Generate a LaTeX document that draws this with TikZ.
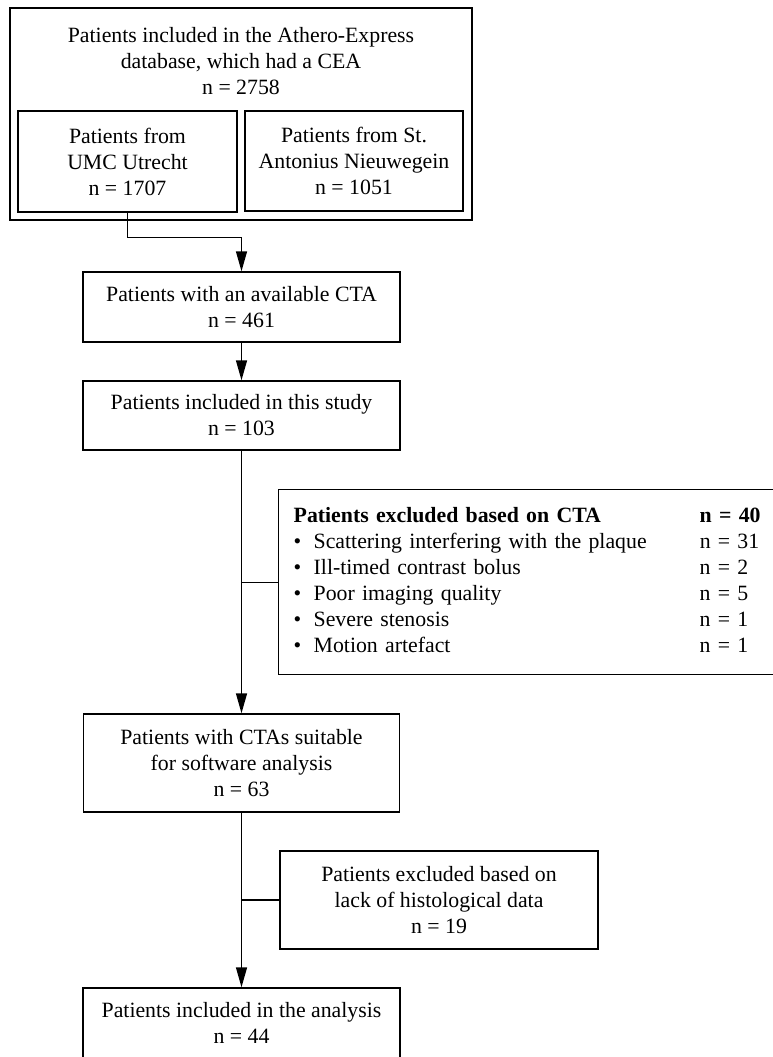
\documentclass[tikz,border=0pt]{standalone}
\usepackage{fontspec}
\setmainfont{Liberation Serif}
\usetikzlibrary{arrows.meta}
\newcommand{\boxfont}{\fontsize{21.8}{26}\selectfont}
\newcommand{\bul}{\makebox[20pt][l]{•}}

\begin{document}
\begin{tikzpicture}[x=1pt,y=-1pt,
	box/.style={draw, line width=1.4pt, align=center, inner sep=0pt, font=\boxfont},
	arr/.style={line width=1.4pt, -{Triangle[length=20pt,width=11pt]}},
	link/.style={line width=1.4pt}]
	\useasboundingbox (0,0) rectangle (773,1057);

	% database with its two centres
	\node [box, minimum width=462, minimum height=212] (dbase) at (241,114) {};
	\node [font=\boxfont, align=center, inner sep=0pt] (dbasetext) at (241,61) {Patients included in the Athero-Express\\ database, which had a CEA\\ n = 2758};
	\node [box, minimum width=219, minimum height=101] (umc) at (127.5,161.5) {Patients from\\ UMC Utrecht\\ n = 1707};
	\node [box, minimum width=218, minimum height=100] (stant) at (354,161) {Patients from St.\\ Antonius Nieuwegein\\ n = 1051};

	% main flow
	\node [box, minimum width=317, minimum height=70] (cta) at (241.5,307) {Patients with an available CTA\\ n = 461};
	\node [box, minimum width=317, minimum height=69] (study) at (241.5,415.5) {Patients included in this study\\ n = 103};
	\node [box, minimum width=316, minimum height=98] (suit) at (241.5,763) {Patients with CTAs suitable\\ for software analysis\\ n = 63};
	\node [box, minimum width=317, minimum height=70] (final) at (241.5,1023) {Patients included in the analysis\\ n = 44};

	% exclusions
	\node [draw, line width=1.4pt, anchor=north west, text width=467, inner xsep=15pt, inner ysep=0pt, minimum height=185, align=left, font=\boxfont] (exclcta) at (278,489) {\noindent\begin{tabular}{@{}p{406pt}@{}l@{}}
		\textbf{Patients excluded based on CTA} & \textbf{n = 40}\\
		\bul Scattering interfering with the plaque & n = 31\\
		\bul Ill-timed contrast bolus & n = 2\\
		\bul Poor imaging quality & n = 5\\
		\bul Severe stenosis & n = 1\\
		\bul Motion artefact & n = 1
	\end{tabular}};
	\node [box, minimum width=318, minimum height=98] (exclhist) at (439,900) {Patients excluded based on\\ lack of histological data\\ n = 19};

	\draw [arr] (umc.south) -- ++(0,25) -| (cta.north);
	\draw [arr] (cta.south) -- (study.north);
	\draw [arr] (study.south) -- (suit.north);
	\draw [link] (study.south |- exclcta.west) -- (exclcta.west);
	\draw [arr] (suit.south) -- (final.north);
	\draw [link] (suit.south |- exclhist.west) -- (exclhist.west);
\end{tikzpicture}
\end{document}
